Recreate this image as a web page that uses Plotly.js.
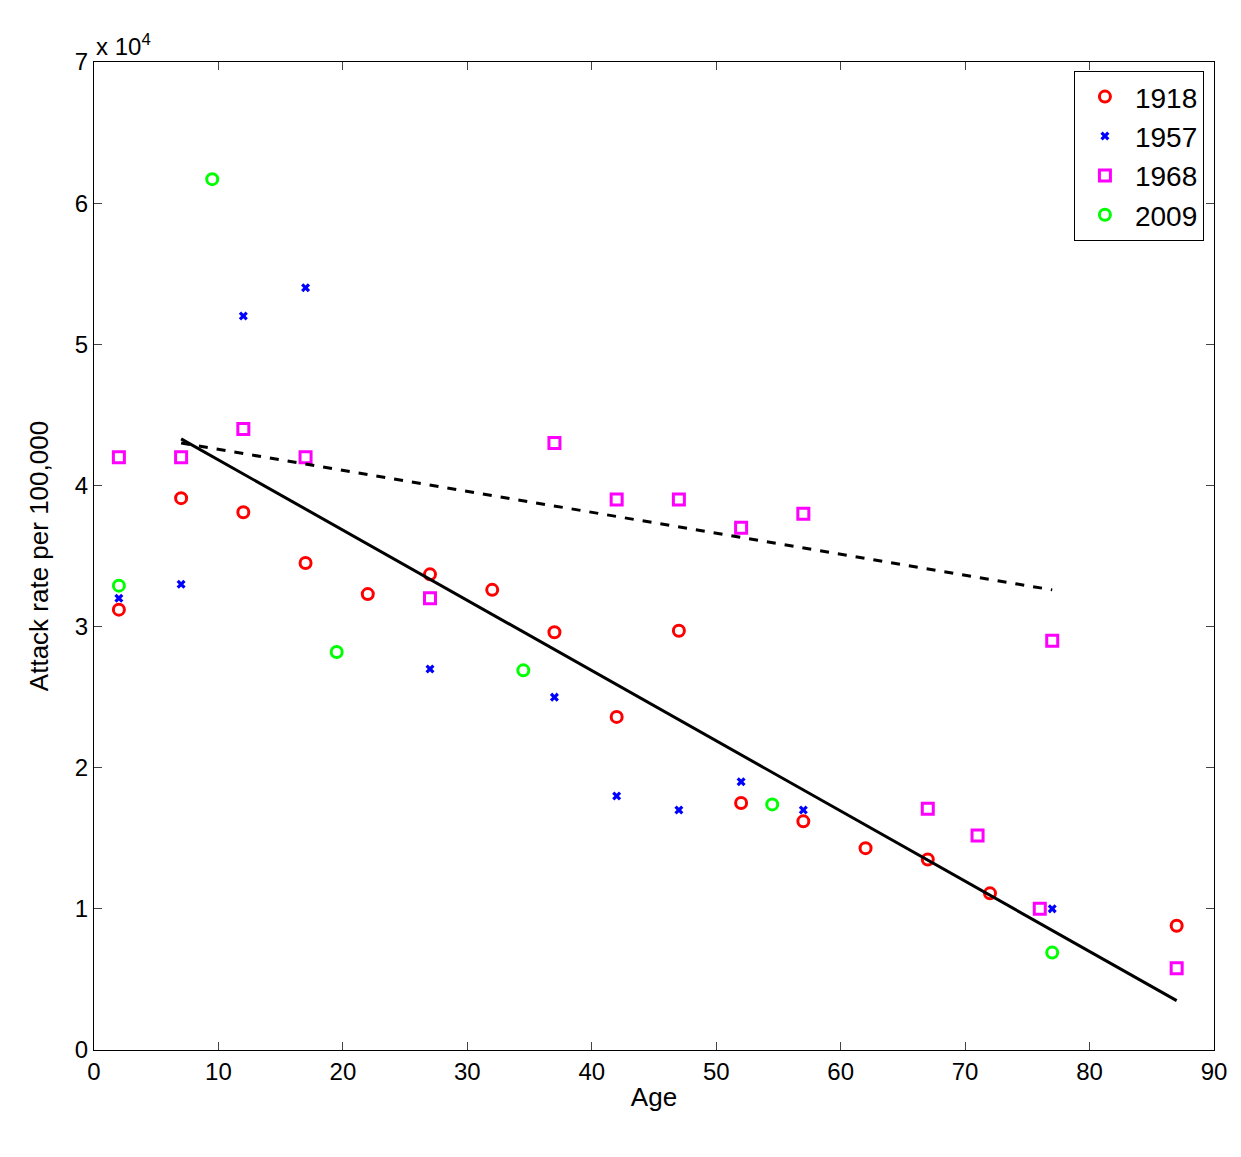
<!DOCTYPE html>
<html><head><script src="https://cdn.plot.ly/plotly-3.0.1.min.js"></script></head>
<body style="margin:0"><div id="c" style="width:1241px;height:1157px"></div>
<script>
const x1918=[2,7,12,17,22,27,32,37,42,47,52,57,62,67,72,87];
const y1918=[31200,39100,38100,34500,32300,33700,32600,29600,23600,29700,17500,16200,14300,13500,11100,8800];
const x1957=[2,7,12,17,27,37,42,47,52,57,77];
const y1957=[32000,33000,52000,54000,27000,25000,18000,17000,19000,17000,10000];
const x1968=[2,7,12,17,27,37,42,47,52,57,77,67,71,76,87];
const y1968=[42000,42000,44000,42000,32000,43000,39000,39000,37000,38000,29000,17100,15200,10000,5800];
const x2009=[2,9.5,19.5,34.5,54.5,77];
const y2009=[32900,61700,28200,26900,17400,6900];
const fitSolidX=[7,87], fitSolidY=[43300,3500];
const fitDashX=[7,77], fitDashY=[43000,32600];
const yTicks=[0,1,2,3,4,5,6,7];
const mk=(x,y,name,sym,col)=>({x,y,name,type:'scatter',mode:'markers',marker:{symbol:sym,color:col,size:sym==='x'?8:11,line:{color:col,width:sym==='x'?0:3}}});
const data=[
mk(x1918,y1918,'1918','circle-open','#ff0000'),
mk(x1957,y1957,'1957','x','#0000ff'),
mk(x1968,y1968,'1968','square-open','#ff00ff'),
mk(x2009,y2009,'2009','circle-open','#00ff00'),
{x:fitSolidX,y:fitSolidY,mode:'lines',line:{color:'#000',width:3},showlegend:false},
{x:fitDashX,y:fitDashY,mode:'lines',line:{color:'#000',width:3,dash:'dash'},showlegend:false}
];
const ax={showgrid:false,zeroline:false,ticks:'inside',ticklen:8,showline:true,mirror:'ticks',linecolor:'#000',linewidth:1,tickfont:{size:24,color:'#000'}};
Plotly.newPlot('c',data,{
width:1241,height:1157,margin:{l:94,r:27,t:62,b:107},
font:{family:'Liberation Sans, Arial',color:'#000'},
paper_bgcolor:'#fff',plot_bgcolor:'#fff',
xaxis:Object.assign({},ax,{range:[0,90],dtick:10,title:{text:'Age',font:{size:26},standoff:4}}),
yaxis:Object.assign({},ax,{range:[0,70000],tickvals:yTicks.map(v=>v*1e4),ticktext:yTicks.map(String),title:{text:'Attack rate per 100,000',font:{size:26},standoff:18}}),
legend:{x:0.991,xanchor:'right',y:0.991,yanchor:'top',bordercolor:'#000',borderwidth:1,bgcolor:'#fff',font:{size:28},itemwidth:50,tracegroupgap:0},
annotations:[{xref:'paper',yref:'paper',x:0,y:1,xanchor:'left',yanchor:'bottom',showarrow:false,text:'x 10<sup>4</sup>',font:{size:24}}]
},{displayModeBar:false});
</script></body></html>
